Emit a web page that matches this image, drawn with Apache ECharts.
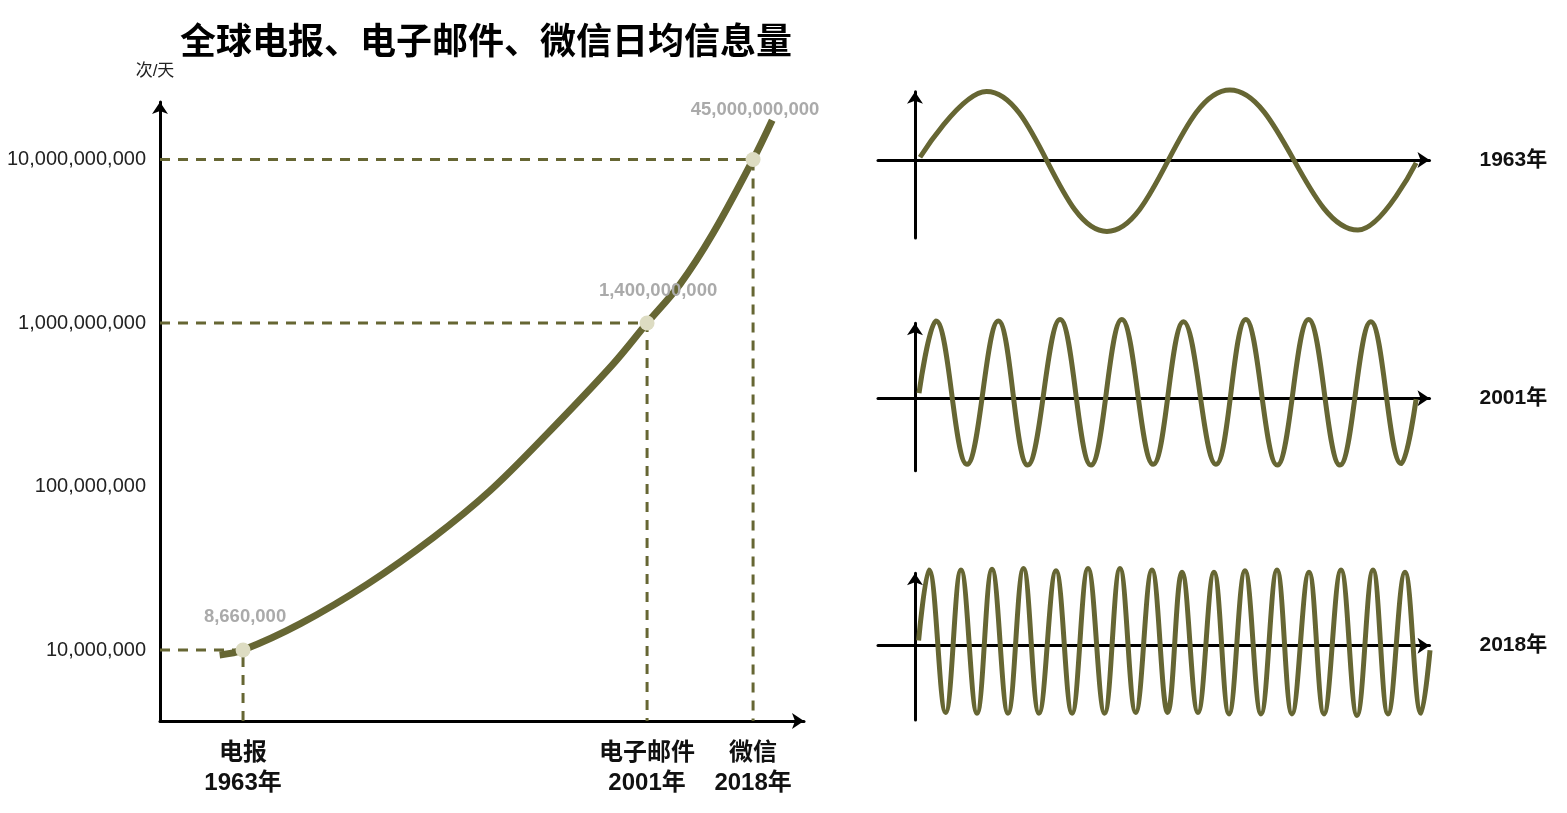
<!DOCTYPE html>
<html><head><meta charset="utf-8">
<script src="https://cdn.jsdelivr.net/npm/echarts@6/dist/echarts.min.js"></script>
<style>html,body{margin:0;padding:0;background:#fff}#c{width:1567px;height:813px}</style>
</head><body><div id="c"></div>
<script>
// ---------- data ----------
const chartTitle = '全球电报、电子邮件、微信日均信息量';
const yAxisUnit = '次/天';
const services = ['电报', '电子邮件', '微信'];
const serviceYears = [1963, 2001, 2018];
const reportedValues = [8660000, 1400000000, 45000000000];   // label texts
const plottedLevels = [1e7, 1e9, 1e10];                       // where the points sit on the log axis
const curveYears  = [1960.8, 1963, 1968.4, 1974.7, 1980.9, 1986.2, 1991.6, 1997.8, 2001, 2006.3, 2011.6, 2018, 2019.8];
const curveValues = [9.32e6, 1e7, 1.45e7, 2.53e7, 4.88e7, 9.39e7, 2.1e8, 5.61e8, 1e9, 1.73e9, 3.55e9, 1e10, 1.74e10];
// the drawing compresses the 2001–2018 stretch of the time axis
const compressedPeriod = { start: 2001, end: 2018, shownAsYears: 9.97 };

const waveLabels = ['1963年', '2001年', '2018年'];
// key points [time, amplitude] read from the three signal sketches
const wave1963 = [[0.97,0.04],[13.9,0.98],[37.3,-1.02],[61.2,1.0],[86.1,-1.0],[97.4,-0.04]];
const wave2001 = [[0.78,0.07],[4.08,1.03],[10.1,-0.88],[16.2,1.03],[21.9,-0.89],[28.2,1.05],[34.2,-0.89],[40.2,1.05],[46.3,-0.88],
  [52.2,1.02],[58.5,-0.88],[64.3,1.05],[70.4,-0.89],[76.5,1.05],[82.6,-0.89],[88.6,1.02],[94.5,-0.87],[97.4,-0.01]];
const wave2018 = [[0.70,0.07],[2.72,1.01],[5.95,-0.89],[8.94,1.01],[12.05,-0.90],[14.97,1.02],[18.08,-0.90],[21.09,1.03],[24.10,-0.90],
  [27.41,1.0],[30.52,-0.90],[33.63,1.03],[36.85,-0.90],[39.84,1.03],[42.90,-0.89],[46.06,1.01],[49.10,-0.89],[51.90,0.98],[55.00,-0.89],
  [58.11,0.98],[61.03,-0.91],[64.14,1.0],[67.25,-0.91],[70.36,1.01],[73.27,-0.91],[76.58,0.98],[79.49,-0.91],[82.80,1.01],[85.91,-0.93],
  [89.02,1.01],[91.93,-0.91],[95.24,0.98],[98.35,-0.90],[100.1,-0.06]];

// ---------- chart ----------
const OLIVE = '#666633';
const FONT = "'Liberation Sans', 'Noto Sans CJK SC', sans-serif";
const xMin = 1955.19, xMax = 2022.79;
const yMin = Math.pow(10, 6.5657), yMax = Math.pow(10, 10.352);

function fmtLog(v) {
  const e = Math.log10(v);
  if (Math.abs(e - Math.round(e)) > 1e-6) return '';
  return Math.round(v).toLocaleString('en-US');
}

const arrowAxisLine = (w) => ({
  onZero: true,
  symbol: ['none', 'arrow'],
  symbolSize: [12, 12],
  lineStyle: { color: '#000', width: w }
});

const waveGrids = [
  { left: 878, top: 91.7, width: 551.5, height: 146.3 },
  { left: 878, top: 323.3, width: 551.5, height: 147.4 },
  { left: 878, top: 573.3, width: 551.5, height: 146.7 }
];
const waveY = [[-1.114, 0.976], [-0.965, 1.0], [-0.991, 0.965]];
const waves = [wave1963, wave2001, wave2018];

const grids = [{ left: 160, top: 102, width: 644, height: 619 }].concat(waveGrids);

const xAxes = [{
  // time axis (years), 2001–2018 drawn compressed as in the original
  type: 'value', gridIndex: 0, min: xMin, max: xMax, position: 'bottom',
  breaks: [{ start: compressedPeriod.start, end: compressedPeriod.end, gap: compressedPeriod.shownAsYears }],
  breakArea: { show: false, itemStyle: { opacity: 0, borderWidth: 0 }, zigzagAmplitude: 0 },
  axisLine: { show: false },
  axisTick: { show: false }, splitLine: { show: false },
  axisLabel: {
    customValues: serviceYears,
    formatter: (v) => {
      const i = serviceYears.indexOf(Math.round(v));
      return i < 0 ? '' : services[i] + '\n' + Math.round(v) + '年';
    },
    fontSize: 24, fontWeight: 'bold', color: '#111', lineHeight: 30, margin: 17, fontFamily: FONT
  }
}, {
  // continuous baseline with arrow for the same grid
  type: 'value', gridIndex: 0, min: 0, max: 1, position: 'bottom', offset: 0,
  axisLine: Object.assign(arrowAxisLine(3), { onZero: false }),
  axisTick: { show: false }, axisLabel: { show: false }, splitLine: { show: false }
}];
const yAxes = [{
  type: 'log', logBase: 10, gridIndex: 0, min: yMin, max: yMax,
  name: yAxisUnit, nameLocation: 'end', nameGap: 22,
  nameTextStyle: { fontSize: 17, color: '#222', padding: [0, 10, 0, 0], fontFamily: FONT },
  axisLine: Object.assign(arrowAxisLine(3), { onZero: false }),
  axisTick: { show: false }, splitLine: { show: false },
  axisLabel: { formatter: fmtLog, fontSize: 20, color: '#222', margin: 14, fontFamily: FONT }
}];

waves.forEach((w, i) => {
  xAxes.push({
    type: 'value', gridIndex: i + 1, min: -7.19, max: 100,
    name: waveLabels[i], nameLocation: 'end', nameGap: 50,
    nameTextStyle: { fontSize: 21, fontWeight: 'bold', color: '#111', fontFamily: FONT, verticalAlign: 'middle', align: 'left' },
    axisLine: arrowAxisLine(3), axisTick: { show: false }, axisLabel: { show: false }, splitLine: { show: false }
  });
  yAxes.push({
    type: 'value', gridIndex: i + 1, min: waveY[i][0], max: waveY[i][1],
    axisLine: arrowAxisLine(3), axisTick: { show: false }, axisLabel: { show: false }, splitLine: { show: false }
  });
});

const series = [];
// guide lines
serviceYears.forEach((yr, i) => {
  series.push({
    type: 'line', xAxisIndex: 0, yAxisIndex: 0, silent: true, z: 1,
    showSymbol: false, symbol: 'none',
    data: [[xMin, plottedLevels[i]], [yr, plottedLevels[i]], [yr, yMin]],
    lineStyle: { color: OLIVE, width: 3, type: [10, 8] }
  });
});
// growth curve
series.push({
  type: 'line', xAxisIndex: 0, yAxisIndex: 0, z: 2, smooth: 0.35, symbol: 'none',
  data: curveYears.map((y, i) => [y, curveValues[i]]),
  lineStyle: { color: OLIVE, width: 7 }
});
// points
const labelNudge = [{ distance: 16, offset: [2, 0] }, { distance: 15, offset: [11, 0] }, { distance: 33, offset: [2, 0] }];
series.push({
  type: 'scatter', xAxisIndex: 0, yAxisIndex: 0, z: 3, symbolSize: 15,
  itemStyle: { color: '#dddcc2', opacity: 1 },
  data: serviceYears.map((y, i) => ({ value: [y, plottedLevels[i]], label: labelNudge[i] })),
  label: {
    show: true, position: 'top',
    formatter: (p) => reportedValues[p.dataIndex].toLocaleString('en-US'),
    color: '#aaaaaa', fontSize: 18.5, fontWeight: 'bold', fontFamily: FONT
  }
});
// signal sketches
waves.forEach((w, i) => {
  series.push({
    type: 'line', xAxisIndex: i + 2, yAxisIndex: i + 1, smooth: 0.4, symbol: 'none', clip: false,
    data: w, lineStyle: { color: OLIVE, width: 5 }
  });
});

const chart = echarts.init(document.getElementById('c'), null, { renderer: 'canvas' });
chart.setOption({
  animation: false,
  backgroundColor: '#fff',
  textStyle: { fontFamily: FONT },
  title: {
    text: chartTitle, left: 481, top: 17, textAlign: 'center',
    textStyle: { fontSize: 36, fontWeight: 'bold', color: '#000', fontFamily: "'Noto Sans CJK SC', sans-serif" }
  },
  grid: grids,
  xAxis: xAxes,
  yAxis: yAxes,
  series: series
});
</script>
</body></html>
